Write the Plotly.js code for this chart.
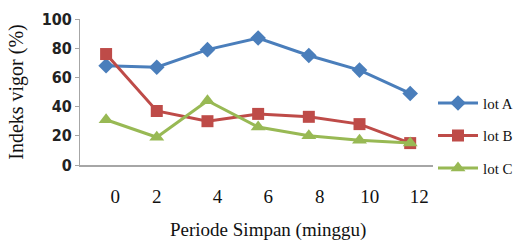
<!DOCTYPE html>
<html>
<head>
<meta charset="utf-8">
<script src="https://cdn.plot.ly/plotly-3.0.1.min.js"></script>
<style>html,body{margin:0;padding:0;background:#fff;}#chart{width:519px;height:242px;}</style>
</head>
<body>
<div id="chart"></div>
<script>
// Data
var weeks = [0, 2, 4, 6, 8, 10, 12];
var lotA = [68, 67, 79, 87, 75, 65, 49];
var lotB = [76, 37, 30, 35, 33, 28, 15];
var lotC = [31, 19, 44, 26, 20, 17, 15];
var seriesNames = ['lot A', 'lot B', 'lot C'];
var xTickLabels = ['0', '2', '4', '6', '8', '10', '12'];
var yTickLabels = ['0', '20', '40', '60', '80', '100'];
var xTitle = 'Periode Simpan (minggu)';
var yTitle = 'Indeks vigor (%)';

// Layout-only label placement (label shifts relative to the point positions)
var labelShift = [0.36, 0, 0.4, 0.4, 0.43, 0.4, 0.36];
var tickPos = weeks.map(function (w, i) { return w + labelShift[i]; });

var colors = ['#4A7EBB', '#BE4B48', '#98B954'];
var symbols = ['diamond', 'square', 'triangle-up'];
var sizes = [12, 12, 13];
var data = [lotA, lotB, lotC].map(function (vals, i) {
  return {
    x: weeks, y: vals, name: seriesNames[i], type: 'scatter', mode: 'lines+markers',
    legendgroup: 'g' + i,
    line: {color: colors[i], width: 3},
    marker: {symbol: symbols[i], size: sizes[i], color: colors[i]}
  };
});

var serif = '"Liberation Serif", "Times New Roman", serif';
var layout = {
  width: 519, height: 242,
  margin: {l: 80, r: 86, t: 19, b: 77, autoexpand: false},
  paper_bgcolor: '#fff', plot_bgcolor: '#fff',
  showlegend: true,
  legend: {
    x: 1.0, xanchor: 'left', y: 0.2, yanchor: 'middle',
    font: {family: serif, size: 15, color: '#111'},
    tracegroupgap: 10, itemwidth: 40,
    bgcolor: 'rgba(0,0,0,0)'
  },
  xaxis: {
    range: [-1.03, 12.9],
    tickmode: 'array', tickvals: tickPos, ticktext: xTickLabels,
    ticks: 'outside', ticklen: 13, tickcolor: 'rgba(0,0,0,0)',
    showgrid: false, zeroline: false,
    showline: true, linecolor: '#A6A6A6', linewidth: 2,
    tickfont: {family: serif, size: 19, color: '#111'}
  },
  yaxis: {
    range: [0, 100],
    tickmode: 'array', tickvals: [0, 20, 40, 60, 80, 100], ticktext: yTickLabels,
    ticks: 'outside', ticklen: 4, tickcolor: '#A6A6A6', tickwidth: 1,
    showgrid: false, zeroline: false,
    showline: true, linecolor: '#A6A6A6', linewidth: 1,
    tickfont: {family: '"Liberation Sans Narrow", "DejaVu Sans Condensed", "Liberation Sans", sans-serif', size: 16, color: '#222', weight: 'bold'},
    title: {text: yTitle, font: {family: serif, size: 20, color: '#111'}, standoff: 12}
  },
  annotations: [{
    text: xTitle, xref: 'paper', yref: 'paper',
    x: (268 - 80) / 353, y: -(230 - 165) / 146, xanchor: 'center', yanchor: 'middle',
    showarrow: false, font: {family: serif, size: 19, color: '#111'}
  }]
};

Plotly.newPlot('chart', data, layout, {displayModeBar: false, staticPlot: true});
</script>
</body>
</html>
